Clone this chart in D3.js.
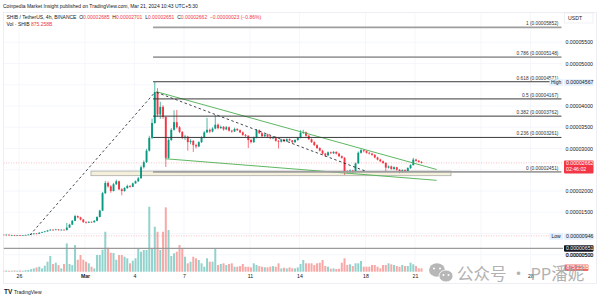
<!DOCTYPE html>
<html><head><meta charset="utf-8">
<script src="https://cdn.jsdelivr.net/npm/d3@7"></script>
<style>body{margin:0;background:#fff}svg{display:block;font-family:"Liberation Sans",Arial,sans-serif}</style>
</head><body><svg id="c" width="600" height="298"></svg>
<script>
// ---- DATA (prices in units of 1e-8 USDT) ----
const firstOpen = 980;
const closes = [975,968,972,960,965,958,962,955,960,966,
975,985,1000,995,1020,1035,1050,1075,1090,1085,
1095,1080,1090,1085,1140,1210,1300,1410,1380,1330,
1270,1255,1275,1265,1300,1390,1540,1950,2190,2110,
2000,2160,2230,2040,2000,2070,2120,2100,2180,2230,
2300,2560,2680,2950,3250,3600,4330,3800,3980,3740,
2780,3200,3440,3620,3500,3390,3250,3280,3150,3180,
3080,3050,3150,3260,3380,3440,3400,3470,3560,3480,
3510,3450,3500,3420,3400,3460,3430,3380,3320,3300,
3200,3150,3260,3430,3360,3290,3330,3280,3240,3270,
3180,3160,3210,3170,3220,3190,3150,3200,3250,3370,
3380,3300,3220,3150,3080,3010,2950,2880,2840,2910,
2890,2920,2880,2820,2780,2460,2450,2480,2450,2650,
2900,2960,2940,2900,2880,2850,2790,2740,2700,2660,
2550,2580,2520,2560,2500,2450,2490,2470,2540,2610,
2740,2710,2685,2662];
const highs = [990,982,980,978,972,970,968,968,966,975,
985,995,1010,1012,1030,1045,1060,1085,1105,1100,
1110,1105,1100,1098,1250,1230,1320,1440,1425,1395,
1345,1290,1290,1285,1315,1405,1560,1980,2240,2230,
2140,2190,2270,2245,2070,2090,2150,2140,2200,2250,
2330,2600,2720,2990,3300,3700,4567,4420,4100,4020,
3760,3240,3480,3900,3906,3530,3410,3320,3300,3220,
3200,3110,3170,3290,3410,3720,3470,3500,3790,3590,
3540,3530,3530,3520,3440,3490,3480,3450,3400,3340,
3310,3230,3280,3460,3450,3380,3350,3350,3300,3290,
3280,3200,3230,3230,3240,3240,3200,3220,3270,3430,
3440,3400,3320,3240,3170,3100,3030,2970,2900,2930,
2930,2940,2935,2900,2840,2800,2490,2510,2500,2670,
2930,2990,2980,2960,2920,2900,2870,2810,2760,2720,
2680,2600,2600,2580,2570,2520,2510,2510,2560,2630,
2780,2760,2730,2701];
const lows = [965,960,958,952,950,946,950,948,950,955,
960,968,980,985,990,1012,1028,1045,1068,1070,
1078,1070,1072,1075,1070,1130,1200,1290,1360,1310,
1250,1235,1245,1250,1258,1290,1380,1530,1930,2080,
1960,1990,2140,2020,1900,1985,2050,2080,2090,2170,
2210,2290,2530,2660,2930,3220,3580,3750,3700,3700,
2565,2760,3180,3420,3470,3360,3220,3200,2950,3100,
2920,3000,3030,3130,3240,3360,3360,3380,3450,3450,
3460,3420,3430,3400,3370,3390,3410,3360,3300,3270,
3010,3120,3130,3240,3340,3270,3270,3260,3220,3220,
3160,3000,3140,3150,3160,3170,3120,3130,3180,3240,
3340,3280,3200,3130,3060,2990,2930,2860,2800,2820,
2870,2870,2860,2800,2760,2380,2420,2430,2420,2440,
2640,2880,2910,2880,2860,2830,2770,2720,2680,2640,
2450,2530,2500,2500,2480,2420,2430,2450,2460,2520,
2600,2690,2670,2651];
// volume in billions of SHIB
const volumes = [255,255,306,255,255,332,255,306,255,383,
459,638,842,1097,1275,842,1530,2550,4004,1964,
2295,1683,842,1964,7217,1964,1683,6809,3060,4259,
3060,2550,2142,1275,842,4259,4259,5610,10200,6120,
4845,4769,3060,4259,4259,3825,3417,2142,2805,3417,
6044,5100,5534,5534,16575,5967,11475,10200,5534,10200,
16422,10634,4004,4692,5100,6809,5967,3825,2142,2550,
3825,3417,2984,2142,1275,3417,2550,2550,5967,1709,
1964,2142,1709,1964,2142,1275,1275,1428,1964,1275,
1275,1097,2142,1709,1428,1275,1148,1097,1275,1428,
1275,2142,842,1020,842,1097,893,842,1097,1964,
2984,2142,2142,2142,1709,2142,2295,2984,1454,1275,
765,842,689,765,2295,3417,1709,1887,1454,2142,
2142,2729,1275,1275,1275,1709,1709,1275,867,1709,
1709,2142,1887,1709,1454,1275,1709,1454,1454,2295,
1887,1454,867,875.258];
const firstCandle = "2024-02-24T21:30:00Z";
const priceTicks = [500,1500,2000,3000,3500,4000,5000,5500];
const priceGrid = [500,1000,1500,2000,2500,3000,3500,4000,4500,5000,5500];
const timeTicks = ["2024-02-26","2024-03-01","2024-03-04","2024-03-07","2024-03-11","2024-03-14","2024-03-18","2024-03-21","2024-03-28"];
const timeLabels = ["26","Mar","4","7","11","14","18","21","28"];
const timeGrid = ["2024-02-26","2024-03-01","2024-03-04","2024-03-07","2024-03-11","2024-03-14","2024-03-18","2024-03-21","2024-03-25","2024-03-28"];
const fibRatios = ["1","0.786","0.618","0.5","0.382","0.236","0"];
const fibPrices = [5852,5148,4571,4167,3762,3261,2451];
const fibStyle = ["gray","gray","dark","dark","dark","dark","gray"];
const fibSpan = ["2024-03-05T03:00:00Z","2024-03-29T21:00:00Z"];
const trendUpper = [["2024-03-05T08:00:00Z",4336],["2024-03-22T07:30:00Z",2506]];
const trendLower = [["2024-03-05T20:30:00Z",2760],["2024-03-22T07:30:00Z",2252]];
const dashUp = [["2024-02-26T16:00:00Z",965],["2024-03-05T04:30:00Z",4300]];
const dashDown = [["2024-03-05T08:00:00Z",4322],["2024-03-18T01:30:00Z",2459]];
const zoneBox = [["2024-03-01T08:40:00Z",2470],["2024-03-23T04:20:00Z",2360]];
const hLinePrice = 651;
const lowPrice = 946, highPrice = 4567, lastPrice = 2662;

// ---- SETUP ----
const svg = d3.select("#c");
const GREEN="#089981", RED="#f23645", VGREEN="#92d2cc", VRED="#f7a9a7";
const plotL=3.5, plotR=563, plotT=13, plotB=272;
const x = d3.scaleUtc().domain([new Date("2024-02-26T00:00:00Z"), new Date("2024-03-21T00:00:00Z")]).range([19,415]);
const y = d3.scaleLinear().domain([500,5000]).range([254.8,63.5]);
const yv = d3.scaleLinear().domain([0,17000]).range([271.7,205.1]);
const fmt = v => (v/1e8).toFixed(8);
const t0 = new Date(firstCandle).getTime();
const data = closes.map((c,i)=>({t:new Date(t0+i*4*3600e3), o:i?closes[i-1]:firstOpen, c, h:highs[i], l:lows[i], v:volumes[i]}));

svg.append("rect").attr("width",600).attr("height",298).attr("fill","#fff");
svg.append("defs").append("clipPath").attr("id","clip").append("rect")
  .attr("x",plotL).attr("y",plotT).attr("width",plotR-plotL).attr("height",plotB-plotT);

// header
svg.append("text").attr("x",3).attr("y",7.5).attr("font-size",5).attr("fill","#131722")
  .text("Coinpedia Market Insight published on TradingView.com, Mar 21, 2024 10:43 UTC+5:30");
// frame
svg.append("rect").attr("x",plotL).attr("y",12.5).attr("width",593).attr("height",271)
  .attr("fill","none").attr("stroke","#e0e3eb").attr("stroke-width",0.6);

// grid
const g = svg.append("g").attr("clip-path","url(#clip)");
g.selectAll(".hg").data(priceGrid).join("line").attr("x1",plotL).attr("x2",plotR)
  .attr("y1",d=>y(d)).attr("y2",d=>y(d)).attr("stroke","#f0f3fa").attr("stroke-width",0.7);
g.selectAll(".vg").data(timeGrid).join("line").attr("y1",plotT).attr("y2",plotB)
  .attr("x1",d=>x(new Date(d+"T00:00:00Z"))).attr("x2",d=>x(new Date(d+"T00:00:00Z")))
  .attr("stroke","#f0f3fa").attr("stroke-width",0.7);

// volume
g.selectAll(".vol").data(data).join("rect")
  .attr("x",d=>x(d.t)-1).attr("width",2)
  .attr("y",d=>yv(d.v)).attr("height",d=>yv(0)-yv(d.v))
  .attr("fill",d=>d.c>=d.o?VGREEN:VRED);

// horizontal line 0.00000651
g.append("line").attr("x1",plotL).attr("x2",plotR).attr("y1",y(hLinePrice)).attr("y2",y(hLinePrice))
  .attr("stroke","#9a9a9a").attr("stroke-width",1.2);
// low dotted
g.append("line").attr("x1",plotL).attr("x2",plotR).attr("y1",y(lowPrice)).attr("y2",y(lowPrice))
  .attr("stroke","#f7a0a0").attr("stroke-width",0.6).attr("stroke-dasharray","1,1.5");
// last price dotted
g.append("line").attr("x1",plotL).attr("x2",plotR).attr("y1",y(lastPrice)).attr("y2",y(lastPrice))
  .attr("stroke","#f23645").attr("stroke-width",0.5).attr("stroke-dasharray","1,1.5").attr("opacity",0.6);

// zone box
g.append("rect").attr("x",x(new Date(zoneBox[0][0]))).attr("y",y(zoneBox[0][1]))
  .attr("width",x(new Date(zoneBox[1][0]))-x(new Date(zoneBox[0][0])))
  .attr("height",y(zoneBox[1][1])-y(zoneBox[0][1]))
  .attr("fill","#f4f0dc").attr("stroke","#a0a0a0").attr("stroke-width",0.7);

// fib lines
const fx1 = x(new Date(fibSpan[0])), fx2 = x(new Date(fibSpan[1]));
fibPrices.forEach((p,i)=>{
  const gray = fibStyle[i]==="gray";
  svg.append("line").attr("x1",fx1).attr("x2",fx2).attr("y1",y(p)).attr("y2",y(p))
    .attr("stroke",gray?"#9e9e9e":"#3a3a3a").attr("stroke-width",gray?1.8:1);
  svg.append("text").attr("x",fx2-3).attr("y",y(p)-2.2).attr("text-anchor","end")
    .attr("font-size",4.8).attr("fill","#333").text(`${fibRatios[i]} (${fmt(p)})`);
});

// candles
const cg = g.append("g");
cg.selectAll(".wick").data(data).join("line")
  .attr("x1",d=>x(d.t)).attr("x2",d=>x(d.t)).attr("y1",d=>y(d.h)).attr("y2",d=>y(d.l))
  .attr("stroke",d=>d.c>=d.o?GREEN:RED).attr("stroke-width",0.7);
cg.selectAll(".body").data(data).join("rect")
  .attr("x",d=>x(d.t)-0.95).attr("width",1.9)
  .attr("y",d=>y(Math.max(d.o,d.c))).attr("height",d=>Math.max(0.6,Math.abs(y(d.o)-y(d.c))))
  .attr("fill",d=>d.c>=d.o?GREEN:RED);

// drawings
const seg = (pts,stroke,w,dash) => g.append("line")
  .attr("x1",x(new Date(pts[0][0]))).attr("y1",y(pts[0][1]))
  .attr("x2",x(new Date(pts[1][0]))).attr("y2",y(pts[1][1]))
  .attr("stroke",stroke).attr("stroke-width",w).attr("stroke-dasharray",dash||null);
seg(trendUpper,"#4caf50",0.9);
seg(trendLower,"#4caf50",0.9);
seg(dashUp,"#131722",0.8,"2.5,2.5");
seg(dashDown,"#131722",0.8,"2.5,2.5");

// price axis
const ya = svg.append("g").attr("transform","translate(565.5,0)")
  .call(d3.axisRight(y).tickValues(priceTicks).tickSize(0).tickPadding(0).tickFormat(fmt));
ya.select(".domain").remove();
ya.selectAll("text").attr("font-size",5.2).attr("fill","#131722").attr("font-family","Liberation Sans, Arial");

// time axis
const xa = svg.append("g").attr("transform","translate(0,274)")
  .call(d3.axisBottom(x).tickValues(timeTicks.map(d=>new Date(d+"T00:00:00Z"))).tickSize(0).tickPadding(0)
  .tickFormat((d,i)=>timeLabels[i]));
xa.select(".domain").remove();
xa.selectAll("text").attr("font-size",5.2).attr("fill","#131722").attr("font-family","Liberation Sans, Arial")
  .attr("font-weight",(d,i)=>timeLabels[i]==="Mar"?"bold":"normal");

// price axis labels (badges)
function badge(yc, h, bg, fg, lines, x0=564, w=29.5){
  svg.append("rect").attr("x",x0).attr("y",yc-h/2).attr("width",w).attr("height",h).attr("fill",bg).attr("rx",0.8);
  lines.forEach((t,i)=>svg.append("text").attr("x",x0+2).attr("y",yc-h/2+4.9+i*6)
    .attr("font-size",5.2).attr("fill",fg).text(t));
}
svg.append("rect").attr("x",564.5).attr("y",13).attr("width",28.5).attr("height",10).attr("fill","#fff")
  .attr("stroke","#e0e3eb").attr("stroke-width",0.5);
svg.append("text").attr("x",568).attr("y",19.8).attr("font-size",5.2).attr("fill","#131722").text("USDT");
badge(y(highPrice)+0.6, 6.5, "#e3effd", "#131722", [fmt(highPrice)]);
svg.append("rect").attr("x",549.5).attr("y",y(highPrice)+0.6-3.25).attr("width",13.5).attr("height",6.5).attr("fill","#e3effd");
svg.append("text").attr("x",551).attr("y",y(highPrice)+2.4).attr("font-size",5).attr("fill","#131722").text("High");
badge(y(lastPrice)+4, 13, RED, "#fff", [fmt(lastPrice),"02:46:02"]);
badge(y(lowPrice)+0.6, 6.5, "#e3effd", "#131722", [fmt(lowPrice)]);
svg.append("rect").attr("x",549.5).attr("y",y(lowPrice)+0.6-3.25).attr("width",13.5).attr("height",6.5).attr("fill","#e3effd");
svg.append("text").attr("x",551.5).attr("y",y(lowPrice)+2.4).attr("font-size",5).attr("fill","#131722").text("Low");
badge(y(hLinePrice), 6.5, "#131722", "#fff", [fmt(hLinePrice)]);
svg.append("text").attr("x",566).attr("y",y(500)+1.8).attr("font-size",5.2).attr("fill","#131722").text(fmt(500));
badge(yv(volumes[volumes.length-1])-0.6, 6.5, "#ef6b69", "#fff", ["875.258B"], 564.5, 24);

// legend lines
const l2 = svg.append("text").attr("x",6.5).attr("y",18.5).attr("font-size",5);
[["SHIB / TetherUS, 4h, BINANCE  ","#131722"],["O","#131722"],["0.00002685  ",RED],["H","#131722"],["0.00002701  ",RED],
 ["L","#131722"],["0.00002651  ",RED],["C","#131722"],["0.00002662  ",RED],["−0.00000023 (−0.86%)",RED]]
 .forEach(([t,c])=>l2.append("tspan").attr("fill",c).attr("xml:space","preserve").text(t));
const l3 = svg.append("text").attr("x",6.5).attr("y",26).attr("font-size",5);
l3.append("tspan").attr("fill","#131722").text("Vol · SHIB  ");
l3.append("tspan").attr("fill",RED).text("875.258B");

// TradingView logo
svg.append("text").attr("x",4).attr("y",294).attr("font-size",6.5).attr("font-weight","bold").attr("fill","#131722").text("TV");
svg.append("text").attr("x",14).attr("y",293.5).attr("font-size",5).attr("fill","#131722").text("TradingView");

// watermark
const wm = svg.append("g").attr("opacity",0.85);
wm.append("ellipse").attr("cx",437).attr("cy",270).attr("rx",8).attr("ry",6.8).attr("fill","#ababab");
wm.append("ellipse").attr("cx",446).attr("cy",276).attr("rx",7).attr("ry",6).attr("fill","#ababab").attr("stroke","#fff").attr("stroke-width",0.8);
[[434,268.5],[440,268.5],[443.5,275],[448.5,275]].forEach(([cx,cy])=>wm.append("circle").attr("cx",cx).attr("cy",cy).attr("r",1).attr("fill","#fff"));
wm.append("text").attr("x",457).attr("y",279.5).attr("font-size",16.5)
  .attr("font-family","Noto Sans CJK SC").attr("fill","#a5a5a5").text("公众号 · PP潘妮");
</script></body></html>
